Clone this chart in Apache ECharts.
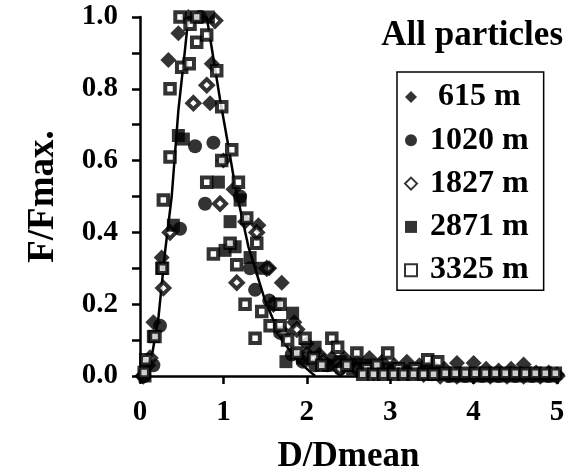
<!DOCTYPE html>
<html><head><meta charset="utf-8">
<script src="https://cdn.jsdelivr.net/npm/echarts@6/dist/echarts.min.js"></script>
<style>html,body{margin:0;padding:0;background:#fff}#c{width:569px;height:475px}</style>
</head><body><div id="c"></div><script>
const seriesNames = [' 615 m', '1020 m', '1827 m', '2871 m', '3325 m'];
const xTicks = [0, 1, 2, 3, 4, 5];
const yTicks = [0.0, 0.2, 0.4, 0.6, 0.8, 1.0];

const s615 = [[0.03,0.0],[0.10,0.03],[0.16,0.15],[0.26,0.33],[0.34,0.88],[0.46,0.955],[0.58,1.0],[0.86,0.87],[0.84,0.76],
  [1.0,0.6],[1.12,0.52],[1.26,0.43],[1.42,0.42],[1.55,0.3],[1.70,0.26],[1.85,0.15],[2.0,0.09],[2.15,0.06],[2.3,0.05],
  [2.45,0.05],[2.6,0.04],[2.75,0.05],[2.9,0.04],[3.05,0.03],[3.2,0.04],[3.35,0.03],[3.5,0.03],[3.65,0.02],[3.8,0.036],
  [4.0,0.036],[4.15,0.02],[4.3,0.015],[4.45,0.02],[4.6,0.032],[4.75,0.01],[4.9,0.01],[5.0,0.005]];
const s1020 = [[0.05,0.0],[0.16,0.03],[0.24,0.14],[0.48,0.41],[0.66,0.64],[0.72,1.0],[0.88,0.65],[0.78,0.48],[1.2,0.5],
  [1.32,0.30],[1.38,0.24],[1.55,0.21],[1.68,0.12],[1.82,0.06],[1.95,0.04],[2.1,0.03],[2.25,0.03],[2.4,0.02],[2.55,0.03],
  [2.7,0.02],[2.85,0.02],[3.0,0.01],[3.15,0.01],[3.3,0.01],[3.5,0.005],[3.7,0.0],[3.9,0.0],[4.1,0.0],[4.3,0.0],[4.5,0.0],
  [4.7,0.0],[4.9,0.0]];
const s1827 = [[0.04,0.0],[0.12,0.05],[0.28,0.245],[0.36,0.40],[0.64,0.76],[0.80,0.81],[0.90,0.99],[0.96,0.48],[1.16,0.26],
  [1.4,0.40],[1.52,0.30],[1.6,0.2],[1.72,0.12],[1.88,0.13],[2.0,0.06],[2.2,0.04],[2.4,0.02],[2.6,0.02],[2.8,0.01],[3.0,0.01],
  [3.2,0.01],[3.4,0.005],[3.6,0.0],[3.8,0.0],[4.0,0.0],[4.2,0.0],[4.4,0.0],[4.6,0.0],[4.8,0.0],[5.0,0.0]];
const s2871 = [[0.06,0.0],[0.16,0.11],[0.26,0.30],[0.40,0.42],[0.46,0.67],[0.52,0.66],[0.82,1.0],[0.94,0.54],[1.08,0.43],
  [1.02,0.35],[1.14,0.36],[1.2,0.49],[1.32,0.33],[1.46,0.30],[1.62,0.2],[1.83,0.175],[1.75,0.04],[1.95,0.05],[2.1,0.08],
  [2.25,0.03],[2.4,0.04],[2.55,0.02],[2.7,0.03],[2.85,0.02],[3.0,0.02],[3.15,0.01],[3.3,0.01],[3.45,0.01],[3.6,0.005],
  [3.75,0.0],[3.9,0.0],[4.05,0.0],[4.2,0.0],[4.35,0.0],[4.5,0.0],[4.65,0.0],[4.8,0.0],[4.95,0.0]];
const s3325 = [[0.05,0.01],[0.07,0.045],[0.18,0.11],[0.27,0.3],[0.28,0.49],[0.36,0.61],[0.36,0.80],[0.48,1.0],[0.5,0.86],
  [0.59,0.87],[0.6,0.98],[0.68,1.0],[0.68,0.93],[0.80,0.95],[0.92,0.85],[0.98,0.75],[0.80,0.54],[0.98,0.60],[1.10,0.63],
  [1.18,0.54],[0.88,0.34],[1.08,0.37],[1.16,0.31],[1.28,0.44],[1.40,0.37],[1.26,0.20],[1.46,0.18],[1.56,0.14],[1.68,0.20],
  [1.68,0.14],[1.38,0.105],[1.77,0.10],[1.98,0.105],[1.88,0.064],[2.08,0.05],[2.18,0.03],[2.30,0.105],[2.37,0.08],
  [2.48,0.03],[2.60,0.064],[2.72,0.02],[2.84,0.03],[2.97,0.064],[3.10,0.02],[3.30,0.02],[3.45,0.045],[3.57,0.04],
  [2.67,0.005],[2.80,0.005],[2.92,0.005],[3.04,0.005],[3.16,0.005],[3.28,0.005],[3.40,0.005],[3.52,0.005],
  [3.66,0.008],[3.78,0.008],[3.90,0.008],[4.02,0.008],[4.14,0.008],[4.26,0.008],[4.38,0.008],[4.50,0.008],
  [4.62,0.008],[4.74,0.008],[4.86,0.008],[4.98,0.008]];
const fitLine = [[0.10,0.0],[0.22,0.16],[0.30,0.345],[0.38,0.5],[0.46,0.74],[0.54,0.91],[0.58,1.0],[0.80,1.0],[0.96,0.77],
  [1.06,0.64],[1.14,0.53],[1.3,0.36],[1.5,0.21],[1.7,0.1],[1.9,0.04],[2.1,0.0]];

const FONT = 'Liberation Serif';
const txt = (size) => ({ fontFamily: FONT, fontWeight: 'bold', fontSize: size, color: '#000' });
const filled = { color: '#000' };
const hollow = { color: '#fff', borderColor: '#000', borderWidth: 4 };

const chart = echarts.init(document.getElementById('c'), null, { renderer: 'canvas' });
chart.setOption({
  animation: false,
  backgroundColor: '#fff',
  title: { text: 'All particles', right: 1, top: 13, textStyle: txt(35) },
  legend: {
    data: seriesNames, orient: 'vertical', left: 397, top: 72,
    padding: [9, 15, 4, 7], itemGap: 11.3, itemWidth: 12, itemHeight: 12,
    borderColor: '#000', borderWidth: 1.5,
    textStyle: Object.assign(txt(32), { lineHeight: 32, padding: [0, 0, 0, 8] })
  },
  grid: { left: 140, right: 12, top: 17, bottom: 99, outerBoundsMode: 'none', containLabel: false },
  xAxis: {
    type: 'value', min: xTicks[0], max: xTicks[xTicks.length - 1], interval: 1,
    axisLine: { lineStyle: { color: '#000', width: 2.5 } },
    axisTick: { length: 8, lineStyle: { color: '#000', width: 2.5 } },
    splitLine: { show: false },
    axisLabel: Object.assign(txt(29), { margin: 22 }),
    name: 'D/Dmean', nameLocation: 'middle', nameGap: 63, nameTextStyle: txt(35)
  },
  yAxis: {
    type: 'value', min: yTicks[0], max: yTicks[yTicks.length - 1], interval: 0.2,
    axisLine: { show: true, lineStyle: { color: '#000', width: 2.5 } },
    axisTick: { show: true, length: 8, lineStyle: { color: '#000', width: 2.5 } },
    minorTick: { show: true, splitNumber: 2, length: 8, lineStyle: { color: '#000', width: 2.5 } },
    splitLine: { show: false },
    axisLabel: Object.assign(txt(29), { margin: 22, formatter: v => v.toFixed(1) }),
    name: 'F/Fmax.', nameLocation: 'middle', nameGap: 78, nameRotate: 90, nameTextStyle: txt(37)
  },
  series: [
    { type: 'line', name: 'fit', data: fitLine, showSymbol: false, symbol: 'none', silent: true, z: 1,
      lineStyle: { color: '#000', width: 2.5 } },
    { type: 'scatter', name: seriesNames[0], data: s615, symbol: 'diamond', symbolSize: 16, itemStyle: filled, z: 2 },
    { type: 'scatter', name: seriesNames[1], data: s1020, symbol: 'circle', symbolSize: 14, itemStyle: filled, z: 3 },
    { type: 'scatter', name: seriesNames[2], data: s1827, symbol: 'diamond', symbolSize: 12, itemStyle: hollow, z: 4 },
    { type: 'scatter', name: seriesNames[3], data: s2871, symbol: 'rect', symbolSize: 13, itemStyle: filled, z: 5 },
    { type: 'scatter', name: seriesNames[4], data: s3325, symbol: 'rect', symbolSize: 9.5, itemStyle: hollow, z: 6 }
  ]
});
</script></body></html>
